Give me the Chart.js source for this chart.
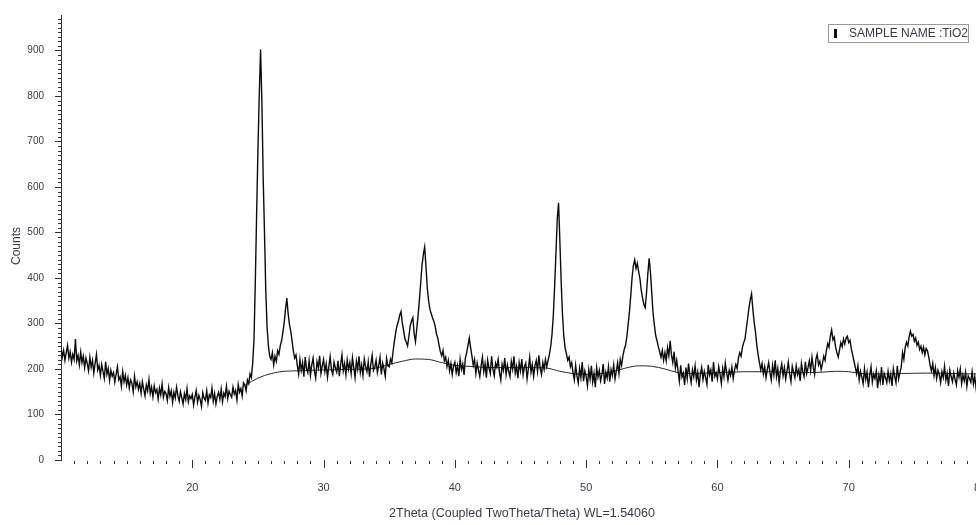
<!DOCTYPE html>
<html>
<head>
<meta charset="utf-8">
<title>XRD TiO2</title>
<script src="https://cdn.jsdelivr.net/npm/chart.js@4.4.1/dist/chart.umd.min.js"></script>
<style>
  html, body { margin: 0; padding: 0; background: #fff; overflow: hidden; }
  canvas { display: block; }
</style>
</head>
<body>
<canvas id="xrdChart" width="1000" height="525"></canvas>
<script>
// scan: 2theta from 10 to 80 deg, step 0.1
const scanStart = 10;
const scanStep = 0.1;

// counts, one row per degree (x.0 ... x.9)
const counts = [
  248, 226, 241, 219, 236, 252, 224, 238, 215, 232, // 10
  221, 266, 218, 230, 209, 237, 214, 228, 203, 224, // 11
  212, 196, 226, 204, 219, 191, 213, 232, 198, 208, // 12
  186, 210, 194, 179, 216, 188, 201, 175, 197, 184, // 13
  192, 171, 189, 205, 176, 183, 162, 194, 172, 186, // 14
  165, 181, 158, 176, 169, 150, 184, 161, 172, 155, // 15
  168, 147, 172, 156, 141, 165, 152, 177, 146, 160, // 16
  139, 163, 148, 155, 134, 158, 143, 167, 138, 151, // 17
  146, 131, 159, 140, 152, 127, 149, 136, 160, 142, // 18
  129, 150, 137, 123, 146, 133, 157, 128, 141, 135, // 19
  144, 121, 139, 153, 127, 142, 133, 118, 148, 136, // 20
  131, 152, 125, 143, 137, 158, 129, 146, 123, 140, // 21
  149, 134, 156, 128, 147, 139, 162, 135, 151, 144, // 22
  138, 160, 145, 153, 132, 166, 149, 157, 141, 170, // 23
  165, 152, 176, 168, 189, 181, 212, 265, 390, 540, // 24
  680, 800, 902, 790, 620, 500, 370, 290, 250, 228, // 25
  221, 236, 209, 228, 217, 240, 232, 251, 262, 280, // 26
  302, 331, 356, 322, 298, 283, 262, 239, 224, 231, // 27
  208, 189, 221, 197, 214, 183, 226, 201, 192, 218, // 28
  186, 209, 224, 195, 180, 216, 203, 229, 190, 207, // 29
  221, 194, 211, 182, 205, 227, 198, 188, 215, 202, // 30
  193, 218, 184, 209, 231, 196, 212, 187, 220, 199, // 31
  214, 190, 225, 203, 181, 217, 200, 228, 192, 209, // 32
  186, 222, 205, 194, 216, 183, 211, 230, 197, 204, // 33
  219, 192, 208, 226, 188, 213, 201, 184, 223, 207, // 34
  205, 222, 214, 240, 262, 281, 296, 305, 318, 326, // 35
  301, 284, 266, 259, 251, 272, 295, 306, 313, 278, // 36
  260, 289, 318, 352, 390, 428, 452, 468, 425, 378, // 37
  350, 331, 322, 312, 305, 294, 277, 268, 252, 238, // 38
  229, 241, 218, 226, 205, 219, 196, 212, 188, 207, // 39
  215, 192, 208, 184, 221, 199, 211, 187, 224, 236, // 40
  252, 268, 247, 229, 208, 221, 190, 213, 198, 183, // 41
  207, 226, 194, 212, 181, 219, 202, 190, 228, 199, // 42
  185, 213, 204, 221, 192, 176, 210, 197, 224, 188, // 43
  209, 195, 183, 217, 200, 228, 191, 206, 180, 214, // 44
  196, 222, 187, 205, 213, 178, 201, 226, 193, 210, // 45
  184, 207, 219, 195, 230, 202, 188, 214, 199, 221, // 46
  205, 219, 232, 250, 276, 318, 382, 455, 530, 565, // 47
  480, 390, 318, 272, 246, 233, 219, 226, 205, 214, // 48
  192, 176, 208, 185, 169, 201, 181, 215, 173, 196, // 49
  184, 163, 199, 178, 207, 171, 190, 160, 203, 182, // 50
  197, 174, 188, 211, 167, 193, 180, 205, 172, 199, // 51
  186, 209, 178, 196, 214, 190, 221, 208, 229, 243, // 52
  252, 271, 298, 326, 362, 401, 428, 440, 421, 432, // 53
  414, 398, 372, 356, 341, 335, 368, 410, 443, 412, // 54
  366, 322, 296, 273, 262, 249, 238, 226, 241, 219, // 55
  236, 218, 247, 229, 262, 231, 214, 238, 202, 219, // 56
  196, 173, 208, 182, 191, 165, 203, 179, 212, 186, // 57
  170, 198, 183, 207, 176, 193, 160, 189, 204, 177, // 58
  195, 181, 166, 209, 187, 198, 172, 215, 184, 192, // 59
  178, 205, 189, 168, 201, 183, 213, 192, 175, 197, // 60
  186, 204, 179, 197, 210, 201, 224, 236, 228, 247, // 61
  258, 266, 289, 311, 334, 352, 365, 331, 302, 281, // 62
  252, 231, 214, 198, 212, 189, 205, 181, 199, 214, // 63
  192, 176, 208, 187, 219, 183, 201, 170, 196, 211, // 64
  185, 203, 178, 196, 215, 189, 172, 206, 193, 181, // 65
  207, 188, 199, 174, 212, 194, 183, 216, 190, 203, // 66
  218, 196, 226, 204, 188, 221, 232, 209, 217, 199, // 67
  212, 228, 219, 241, 256, 248, 272, 286, 264, 270, // 68
  248, 236, 226, 242, 258, 249, 266, 255, 268, 272, // 69
  258, 263, 244, 231, 217, 204, 189, 207, 176, 195, // 70
  182, 168, 201, 177, 193, 160, 186, 205, 171, 189, // 71
  179, 196, 158, 187, 172, 204, 165, 190, 181, 170, // 72
  195, 174, 189, 163, 201, 184, 170, 207, 178, 192, // 73
  204, 236, 221, 247, 259, 251, 270, 283, 272, 276, // 74
  261, 268, 252, 259, 243, 250, 236, 248, 231, 245, // 75
  240, 226, 208, 196, 212, 185, 203, 179, 197, 188, // 76
  170, 194, 181, 206, 175, 190, 163, 198, 184, 172, // 77
  191, 177, 165, 196, 182, 200, 168, 187, 174, 193, // 78
  162, 185, 179, 171, 194, 167, 183, 158, 189, 176, // 79
  169                                               // 80
];

// fitted background curve (only visible where it leaves the noise)
const bgTheta  = [24, 25, 26, 27, 28, 30, 32, 34, 35, 36, 37, 38, 39, 40, 41, 42, 44, 46, 47, 48, 49, 50, 51, 52, 53, 54, 55, 56, 57, 58, 60, 62, 64, 66, 68, 69, 70, 71, 72, 74, 76, 78, 80];
const bgCounts = [164, 180, 190, 195, 196, 198, 199, 202, 210, 217, 222, 221, 214, 208, 206, 204, 203, 203, 202, 195, 190, 188, 189, 194, 202, 207, 206, 200, 192, 190, 192, 194, 194, 192, 193, 195, 194, 190, 189, 190, 191, 190, 189];

// axis ticks
const xTickLabels = [20, 30, 40, 50, 60, 70, 80];
const yTickLabels = [0, 100, 200, 300, 400, 500, 600, 700, 800, 900];

const sampleName = 'SAMPLE NAME :TiO2';
const xTitle = '2Theta (Coupled TwoTheta/Theta) WL=1.54060';
const yTitle = 'Counts';

const yMax = 978;
const textColor = '#3b3b48';
const fontFamily = '"Liberation Sans", Arial, sans-serif';

const patternPoints = counts.map((c, i) => ({ x: +(scanStart + i * scanStep).toFixed(1), y: c }));
const bgPoints = bgTheta.map((t, i) => ({ x: t, y: bgCounts[i] }));

// minor ticks, legend box and axis titles
const decorPlugin = {
  id: 'decor',
  afterDraw(chart) {
    const ctx = chart.ctx;
    const xs = chart.scales.x;
    const ys = chart.scales.y;
    ctx.save();
    ctx.strokeStyle = '#333';
    ctx.lineWidth = 1;
    ctx.beginPath();
    for (let v = 0; v <= yMax; v += 10) {
      const py = Math.round(ys.getPixelForValue(v)) + 0.5;
      const len = v % 100 === 0 ? 6 : 3;
      ctx.moveTo(xs.left - len, py);
      ctx.lineTo(xs.left, py);
    }
    for (let t = 11; t <= 80; t++) {
      const px = Math.round(xs.getPixelForValue(t)) + 0.5;
      const major = t % 10 === 0;
      ctx.moveTo(px, ys.bottom + (major ? 0 : 1));
      ctx.lineTo(px, ys.bottom + (major ? 8 : 4));
    }
    ctx.stroke();

    // legend box
    ctx.strokeStyle = '#9a9a9a';
    ctx.strokeRect(828.5, 24.5, 140, 18);
    ctx.fillStyle = '#111';
    ctx.fillRect(834, 29, 3, 9);
    ctx.fillStyle = textColor;
    ctx.font = '12px ' + fontFamily;
    ctx.textBaseline = 'middle';
    ctx.textAlign = 'left';
    ctx.fillText(sampleName, 849, 33.5);

    // axis titles
    ctx.font = '12.5px ' + fontFamily;
    ctx.textAlign = 'center';
    ctx.fillText(xTitle, 522, 514);
    ctx.translate(17, 246);
    ctx.rotate(-Math.PI / 2);
    ctx.font = '12px ' + fontFamily;
    ctx.fillText(yTitle, 0, 0);
    ctx.restore();
  }
};

new Chart('xrdChart', {
  type: 'line',
  data: {
    datasets: [
      {
        label: sampleName,
        data: patternPoints,
        borderColor: '#0c0c0c',
        borderWidth: 1.4,
        pointRadius: 0,
        tension: 0
      },
      {
        label: 'Background',
        data: bgPoints,
        borderColor: '#2a2a2a',
        borderWidth: 1,
        pointRadius: 0,
        cubicInterpolationMode: 'monotone'
      }
    ]
  },
  options: {
    responsive: false,
    animation: false,
    layout: { padding: { left: 0, top: 15, right: 20, bottom: 0 } },
    plugins: {
      legend: { display: false },
      tooltip: { enabled: false }
    },
    scales: {
      x: {
        type: 'linear',
        min: 10,
        max: 80,
        grid: { display: false },
        border: { display: false },
        afterBuildTicks: (scale) => { scale.ticks = xTickLabels.map(v => ({ value: v })); },
        ticks: {
          maxRotation: 0,
          padding: 13,
          color: textColor,
          font: { family: fontFamily, size: 11 }
        },
        afterFit: (scale) => { scale.height = 65; }
      },
      y: {
        min: 0,
        max: yMax,
        grid: { display: false },
        border: { display: true, color: '#333', width: 1 },
        afterBuildTicks: (scale) => { scale.ticks = yTickLabels.map(v => ({ value: v })); },
        ticks: {
          padding: 9,
          color: textColor,
          font: { family: fontFamily, size: 10 }
        },
        afterFit: (scale) => { scale.width = 61; }
      }
    }
  },
  plugins: [decorPlugin]
});
</script>
</body>
</html>
